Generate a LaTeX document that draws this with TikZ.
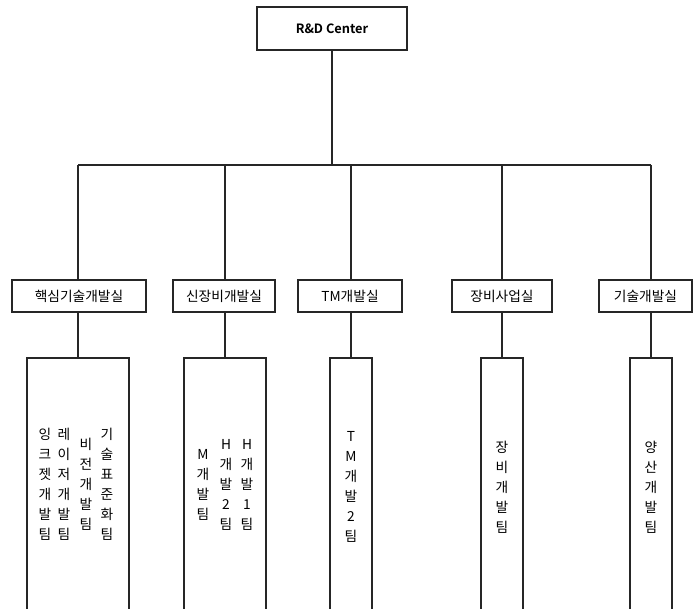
\documentclass[tikz,border=0pt]{standalone}
\usepackage{fontspec}
\newfontfamily\krfont{Noto Sans CJK KR}[BoldFont={Noto Sans CJK KR Bold}]
\usetikzlibrary{calc}
\tikzset{
	orgbox/.style={draw=black!85, line width=0.9pt, inner sep=0pt, fill=white},
	deptbox/.style={orgbox, minimum height=24pt, font={\krfont\fontsize{10.3}{12}\selectfont}},
	teambox/.style={orgbox, minimum height=204pt},
	coltext/.style={align=center, inner sep=0pt, font={\krfont\fontsize{10.3}{15}\selectfont}}
}

\begin{document}
\begin{tikzpicture}[x=0.75pt, y=-0.75pt, line width=0.9pt, draw=black!85]
			%%%%% START %%%%%
			\useasboundingbox (0,0) rectangle (693,609);
			\clip (0,0) rectangle (693,609);
			
			\node[orgbox, minimum width=112.5pt, minimum height=32.25pt, font={\krfont\bfseries\fontsize{9.6}{11}\selectfont}] (rnd) at (332,28.5) {R\&D Center};
			
			\node[deptbox, minimum width=100.5pt] (core) at (79,296) {핵심기술개발실};
			\node[deptbox, minimum width=76.5pt] (equip) at (224,296) {신장비개발실};
			\node[deptbox, minimum width=78pt] (tm) at (350,296) {TM개발실};
			\node[deptbox, minimum width=75pt] (biz) at (502,296) {장비사업실};
			\node[deptbox, minimum width=69.75pt] (tech) at (645.5,296) {기술개발실};
			
			\node[teambox, minimum width=76.5pt] (coreteam) at (78,494) {};
			\node[teambox, minimum width=61.5pt] (equipteam) at (225,494) {};
			\node[teambox, minimum width=31.5pt] (tmteam) at (351,494) {};
			\node[teambox, minimum width=31.5pt] (bizteam) at (502,494) {};
			\node[teambox, minimum width=31.5pt] (techteam) at (651,494) {};
			
			% team names, one column per team
			\node[coltext] (inkjet) at (45,484) {잉\\크\\젯\\개\\발\\팀};
			\node[coltext] (laser) at (64,484) {레\\이\\저\\개\\발\\팀};
			\node[coltext] (vision) at (86,484) {비\\전\\개\\발\\팀};
			\node[coltext] (standard) at (107,484) {기\\술\\표\\준\\화\\팀};
			
			\node[coltext] (mteam) at (203,485) {M\\개\\발\\팀};
			\node[coltext] (htwo) at (226,485) {H\\개\\발\\2\\팀};
			\node[coltext] (hone) at (247,485) {H\\개\\발\\1\\팀};
			
			\node[coltext] (tmtwo) at (351,487) {T\\M\\개\\발\\2\\팀};
			\node[coltext] (equipdev) at (502,487) {장\\비\\개\\발\\팀};
			\node[coltext] (massdev) at (651,487) {양\\산\\개\\발\\팀};
			
			% connectors
			\coordinate (bus) at (0,165);
			\draw (rnd.south) -- (rnd.south |- bus);
			\draw (coreteam.north |- bus) -- (techteam.north |- bus);
			\foreach \dept/\team in {core/coreteam, equip/equipteam, tm/tmteam, biz/bizteam, tech/techteam} {
				\draw (\team.north |- bus) -- (\team.north |- \dept.north);
				\draw (\team.north |- \dept.south) -- (\team.north);
			}
			
			%%%%% END %%%%%
		\end{tikzpicture}
\end{document}
